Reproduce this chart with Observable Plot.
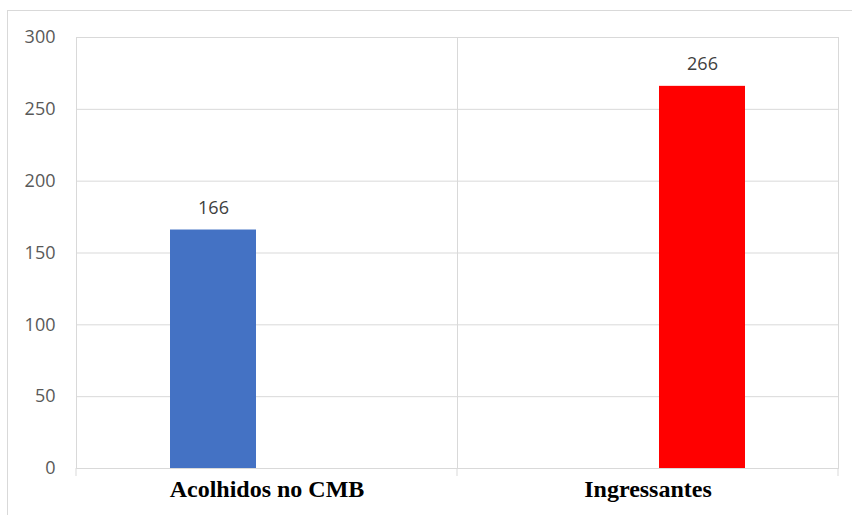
<!DOCTYPE html>
<html>
<head>
<meta charset="utf-8">
<script src="https://cdn.jsdelivr.net/npm/d3@7"></script>
<script src="https://cdn.jsdelivr.net/npm/@observablehq/plot@0.6"></script>
<style>
  html, body { margin: 0; padding: 0; background: #fff; overflow: hidden; }
  #wrap { position: relative; width: 852px; height: 515px; }
  #border { position: absolute; left: 7px; top: 10px; width: 900px; height: 600px;
            border: 1px solid #d9d9d9; box-sizing: border-box; pointer-events: none; }
  #chart { position: absolute; left: 0; top: 0; }
</style>
</head>
<body>
<div id="wrap"><div id="border"></div><div id="chart"></div></div>
<script>
const categories = ["Acolhidos no CMB", "Ingressantes"];
const seriesKeys = ["Série 1", "Série 2"];
const values = [166, 266];
const seriesColors = ["#4472C4", "#FF0000"];
const yTicks = [0, 50, 100, 150, 200, 250, 300];

const rows = categories.map((c, i) => ({category: c, series: seriesKeys[i], value: values[i]}));

const plot = Plot.plot({
  width: 852,
  height: 515,
  marginLeft: 76,
  marginRight: 14,
  marginTop: 37,
  marginBottom: 47,
  style: {fontFamily: "'Open Sans', sans-serif", fontSize: "18px", color: "#595959", background: "transparent"},
  facet: {data: rows, x: "category"},
  fx: {domain: categories, padding: 0, axis: null, label: null},
  x: {domain: seriesKeys, paddingInner: 0.2074, paddingOuter: 0.8595, axis: null},
  y: {domain: [0, 300], ticks: yTicks, tickSize: 0, tickPadding: 21, label: null},
  color: {domain: seriesKeys, range: seriesColors},
  marks: [
    Plot.ruleY(yTicks, {stroke: "#d9d9d9", strokeWidth: 1}),
    Plot.frame({stroke: "#d9d9d9", strokeWidth: 1}),
    Plot.barY(rows, {x: "series", y: "value", fill: "series"}),
    Plot.text(rows, {x: "series", y: "value", text: d => String(d.value), dy: -22,
      fill: "#404040", fontSize: 18}),
    Plot.text(rows, {text: "category", frameAnchor: "bottom", dy: 28,
      fontFamily: "'Liberation Serif', 'Times New Roman', serif", fontWeight: "bold",
      fontSize: 24, fill: "#000"})
  ]
});
document.getElementById("chart").appendChild(plot);

// small category-boundary ticks below the baseline, positioned with Plot's own scales
const fx = plot.scale("fx");
const ys = plot.scale("y");
const y0 = ys.apply(0);
const bounds = [];
categories.forEach((c, i) => {
  const left = fx.apply(c);
  if (i === 0) bounds.push(left);
  bounds.push(left + fx.bandwidth);
});
d3.select(plot).append("g")
  .selectAll("line").data(bounds).join("line")
  .attr("x1", d => d).attr("x2", d => d)
  .attr("y1", y0).attr("y2", y0 + 8)
  .attr("stroke", "#d9d9d9").attr("stroke-width", 1);
</script>
</body>
</html>
